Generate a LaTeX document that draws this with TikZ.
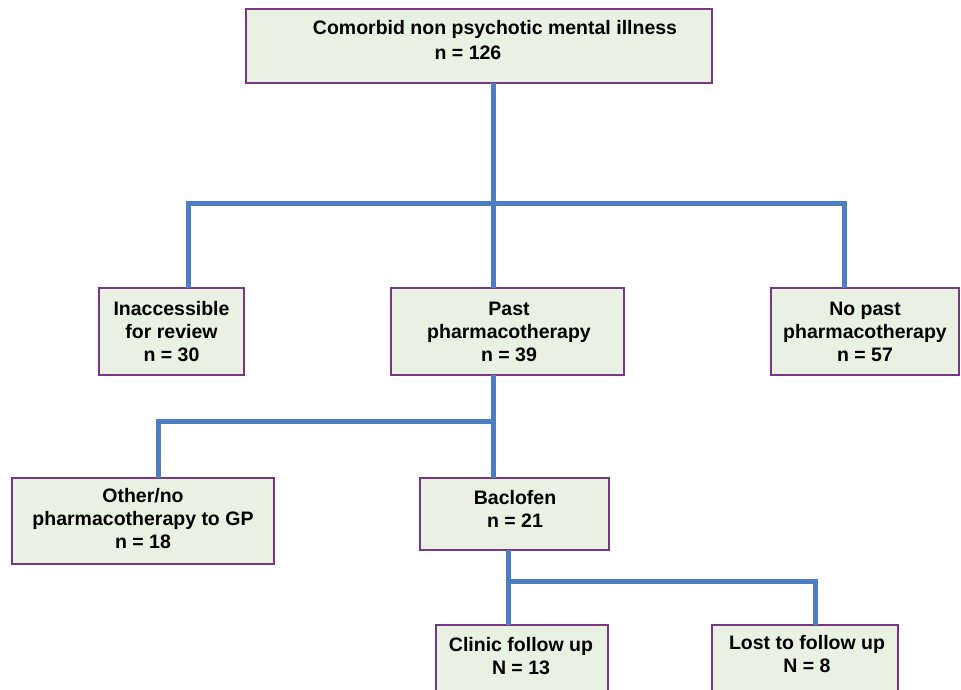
\documentclass[tikz,border=0pt]{standalone}
\usepackage{fontspec}
\setmainfont{Liberation Sans}
\definecolor{boxborder}{HTML}{7A3585}
\definecolor{boxfill}{HTML}{E9F1E2}
\definecolor{connblue}{HTML}{4C7EC3}
\begin{document}
\begin{tikzpicture}[x=1pt,y=-1pt,
  box/.style={draw=boxborder, fill=boxfill, line width=2.2pt, inner sep=0pt, outer sep=0pt},
  txt/.style={align=center, inner sep=0pt, font=\bfseries\fontsize{19.5}{23}\selectfont},
  conn/.style={draw=connblue, line width=5pt, line join=miter}]
\clip (0,0) rectangle (961,690);
\fill[white] (0,0) rectangle (961,690);
% boxes
\node[box, minimum width=466pt, minimum height=74pt] (top) at (479,46) {};
\node[txt] (t1) at (495,29) {Comorbid non psychotic mental illness};
\node[txt] (t2) at (468,53) {n = 126};
\node[box, minimum width=145pt, minimum height=87pt] (inacc) at (171.5,331.5) {};
\node[txt] (inacct) at (inacc) {Inaccessible\\for review\\n = 30};
\node[box, minimum width=233pt, minimum height=87pt] (past) at (507.5,331.5) {};
\node[txt] (pastt) at (509,331.5) {Past\\pharmacotherapy\\n = 39};
\node[box, minimum width=188pt, minimum height=87pt] (nopast) at (865,331.5) {};
\node[txt] (nopastt) at (nopast) {No past\\pharmacotherapy\\n = 57};
\node[box, minimum width=262pt, minimum height=86pt] (other) at (143,521) {};
\node[txt] (othert) at (143,519) {Other/no\\pharmacotherapy to GP\\n = 18};
\node[box, minimum width=189pt, minimum height=72pt] (bac) at (514.5,514) {};
\node[txt] (bact) at (515,508.5) {Baclofen\\n = 21};
\node[box, minimum width=172pt, minimum height=90pt] (clinic) at (522,670) {};
\node[txt] (clinict) at (521,656.5) {Clinic follow up\\N = 13};
\node[box, minimum width=186pt, minimum height=90pt] (lost) at (805,670) {};
\node[txt] (lostt) at (807,654.5) {Lost to follow up\\N = 8};
% junctions
\coordinate (j1) at (493,203);
\coordinate (jl) at (188,203);
\coordinate (jr) at (844,203);
\coordinate (j2) at (493,421);
\coordinate (jo) at (158,421);
\coordinate (j3) at (508,581);
\coordinate (jl3) at (815,581);
% connectors
\draw[conn] (top.south -| j1) -- (past.north -| j1);
\draw[conn] (inacc.north -| jl) -- (jl) -- (jr) -- (nopast.north -| jr);
\draw[conn] (past.south -| j2) -- (bac.north -| j2);
\draw[conn] (j2) -- (jo) -- (other.north -| jo);
\draw[conn] (bac.south -| j3) -- (clinic.north -| j3);
\draw[conn] (j3) -- (jl3) -- (lost.north -| jl3);
\end{tikzpicture}
\end{document}
